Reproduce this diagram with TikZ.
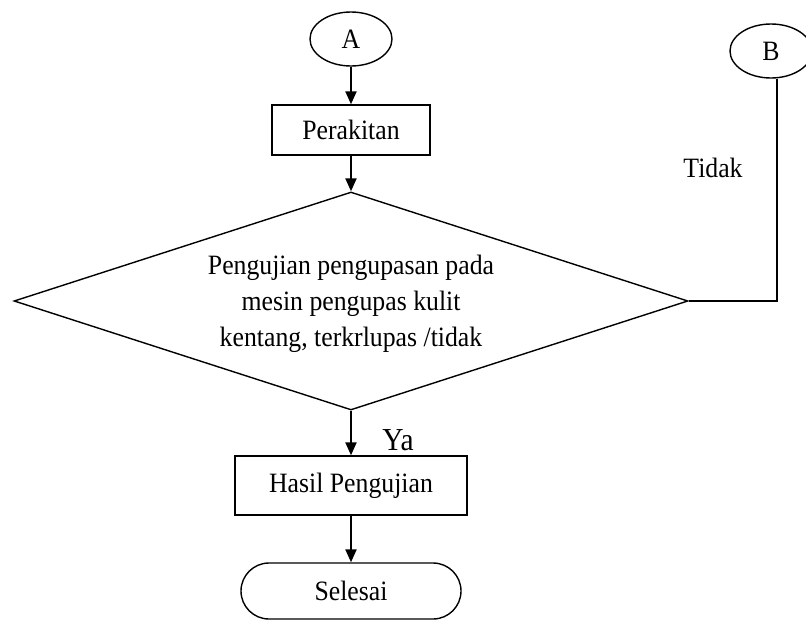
\documentclass[tikz,border=0pt]{standalone}
\usepackage{fontspec}
\setmainfont{Liberation Serif}[FakeStretch=0.92]
\usetikzlibrary{shapes.geometric,shapes.misc,arrows.meta}
\begin{document}
\begin{tikzpicture}[x=1pt,y=-1pt,
  every node/.style={font=\fontsize{28}{36}\selectfont, inner sep=0pt},
  outline/.style={draw, line width=1.4pt},
  conn/.style={draw, line width=2.2pt},
  arr/.style={conn, -{Triangle[length=13pt,width=11pt]}},
  term/.style={outline, ellipse, minimum width=82pt, minimum height=54pt},
  procbox/.style={outline, rectangle},
  decision/.style={outline, diamond, aspect=3.09, minimum width=674pt, minimum height=218pt, align=center},
  endterm/.style={outline, rounded rectangle, minimum width=220pt, minimum height=56pt}
]
\useasboundingbox (0,0) rectangle (806,621);

\node[term] (A) at (351,39) {A};
\node[term] (B) at (771,51) {B};
\node[procbox, minimum width=158pt, minimum height=50pt] (P) at (351,130) {Perakitan};
\node[decision] (D) at (351,301) {\rule{0pt}{26pt}Pengujian pengupasan pada\\mesin pengupas kulit\\kentang, terkrlupas /tidak};
\node[procbox, minimum width=232pt, minimum height=59pt] (H) at (351,485.5) {Hasil Pengujian};
\node[endterm] (S) at (351,591) {Selesai};

\node[anchor=base, font=\fontsize{32}{36}\selectfont] (ya) at (398,450) {Ya};
\node[anchor=base] (tidak) at (713,177) {Tidak};

\draw[arr] (A.south) -- (P.north);
\draw[arr] (P.south) -- (D.north);
\draw[arr] (D.south) -- (H.north);
\draw[arr] (H.south) -- (S.north);

\coordinate (c) at (777,301);
\draw[outline] (D.east) -- (c) -- (c |- B.south);
\end{tikzpicture}
\end{document}
